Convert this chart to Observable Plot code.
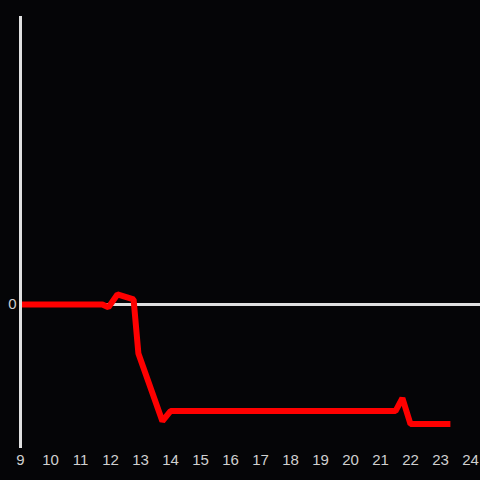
<!DOCTYPE html>
<html>
<head>
<meta charset="utf-8">
<script src="https://cdn.jsdelivr.net/npm/d3@7"></script>
<script src="https://cdn.jsdelivr.net/npm/@observablehq/plot@0.6"></script>
<style>
  html, body { margin: 0; padding: 0; background: #050507; }
  #chart { width: 480px; height: 480px; }
</style>
</head>
<body>
<div id="chart"></div>
<script>
const xs = [9, 11.73, 11.93, 12.23, 12.77, 12.93, 13.73, 14.0, 21.5, 21.73, 22.0, 23.33];
const ys = [0, 0, -0.02, 0.07, 0.035, -0.34, -0.81, -0.74, -0.74, -0.65, -0.83, -0.83];
const xTicks = [9, 10, 11, 12, 13, 14, 15, 16, 17, 18, 19, 20, 21, 22, 23, 24];
const yTicks = [0];

const data = xs.map((x, i) => ({x, y: ys[i]}));

const chart = Plot.plot({
  width: 480,
  height: 480,
  marginLeft: 20,
  marginRight: 0,
  marginTop: 16,
  marginBottom: 32,
  style: {background: "#050507", color: "#d0d0d0", fontFamily: "Liberation Sans, Arial, sans-serif", fontSize: "15px"},
  x: {domain: [9, 24 + 1/3], ticks: xTicks, tickSize: 0, tickPadding: 6, tickFormat: d => String(d), label: null},
  y: {domain: [-1, 2], ticks: yTicks, tickSize: 0, tickPadding: 4, tickFormat: d => String(d), label: null},
  marks: [
    Plot.ruleY([0], {stroke: "#e0e0e0", strokeWidth: 3}),
    Plot.line(data, {x: "x", y: "y", stroke: "#ff0000", strokeWidth: 6, strokeLinejoin: "miter", strokeLinecap: "butt"}),
    Plot.ruleX([9], {stroke: "#e0e0e0", strokeWidth: 3})
  ]
});
document.getElementById("chart").appendChild(chart);
</script>
</body>
</html>
